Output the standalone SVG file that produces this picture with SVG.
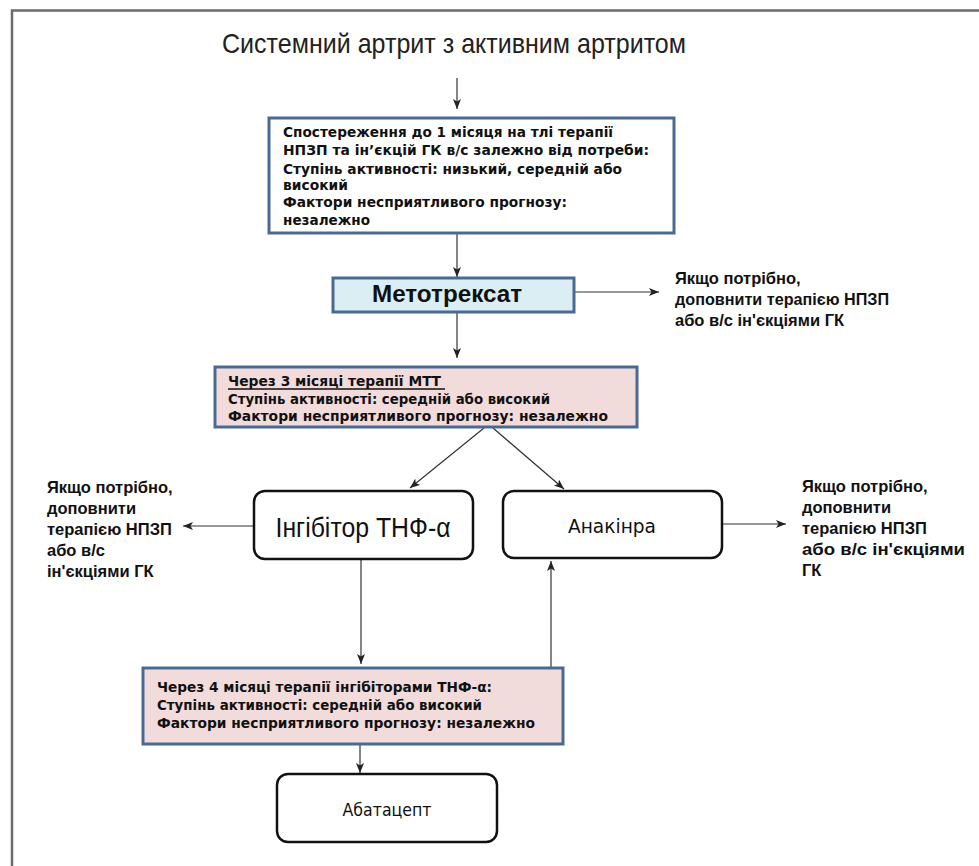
<svg xmlns="http://www.w3.org/2000/svg" width="979" height="866" viewBox="0 0 979 866">
<defs>
<marker id="ah" viewBox="0 0 10 8" refX="10" refY="4" markerWidth="10" markerHeight="8" markerUnits="userSpaceOnUse" orient="auto">
<path d="M0,0 L10,4 L0,8 L2.5,4 Z" fill="#222"/>
</marker>
<style>
.frame{fill:none;stroke:#6b6b6b;stroke-width:2.5}
.bx{fill:#fff;stroke:#4a6a94;stroke-width:3}
.pink{fill:#f2dcdb;stroke:#4a6a94;stroke-width:3}
.blue{fill:#dbeef4;stroke:#4a6a94;stroke-width:3}
.rnd{fill:#fff;stroke:#111;stroke-width:2.5}
.bt{font-family:"DejaVu Sans",Verdana,sans-serif;font-weight:bold;font-size:13.5px;fill:#111}
.st{font-family:"Liberation Sans",Arial,sans-serif;font-weight:bold;font-size:16.5px;fill:#111}
.cn{stroke:#333;stroke-width:1.2;fill:none;marker-end:url(#ah)}
</style>
</defs>
<rect width="979" height="866" fill="#fff"/>
<path class="frame" d="M12,866 V10.5 H979"/>
<g id="title">
<text x="222" y="53" font-family="'Liberation Sans',Arial,sans-serif" font-size="28" fill="#222" textLength="464" lengthAdjust="spacingAndGlyphs">Системний артрит з активним артритом</text>
</g>
<g id="connectors">
<line class="cn" x1="457" y1="78" x2="457" y2="109"/>
<line class="cn" x1="457" y1="234" x2="457" y2="277"/>
<line class="cn" x1="574" y1="292" x2="659" y2="292"/>
<line class="cn" x1="457" y1="312" x2="457" y2="358"/>
<line class="cn" x1="484" y1="428" x2="410" y2="488"/>
<line class="cn" x1="493" y1="428" x2="564" y2="489"/>
<line class="cn" x1="253" y1="526" x2="183" y2="526"/>
<line class="cn" x1="722" y1="524" x2="786" y2="524"/>
<line class="cn" x1="361" y1="560" x2="361" y2="664"/>
<line class="cn" x1="551" y1="667" x2="551" y2="561"/>
<line class="cn" x1="360" y1="745" x2="360" y2="773"/>
</g>
<g id="obs">
<rect class="bx" x="269" y="118" width="405" height="115"/>
<text class="bt" x="283" y="137" textLength="330" lengthAdjust="spacingAndGlyphs">Спостереження до 1 місяця на тлі терапії</text>
<text class="bt" x="283" y="155" textLength="366" lengthAdjust="spacingAndGlyphs">НПЗП та ін’єкцій ГК в/с залежно від потреби:</text>
<text class="bt" x="283" y="174" textLength="339" lengthAdjust="spacingAndGlyphs">Ступінь активності: низький, середній або</text>
<text class="bt" x="283" y="190" textLength="65" lengthAdjust="spacingAndGlyphs">високий</text>
<text class="bt" x="283" y="207" textLength="284" lengthAdjust="spacingAndGlyphs">Фактори несприятливого прогнозу:</text>
<text class="bt" x="283" y="225" textLength="87" lengthAdjust="spacingAndGlyphs">незалежно</text>
</g>
<g id="mtx">
<rect class="blue" x="333" y="278" width="241" height="34"/>
<text x="447" y="302" text-anchor="middle" font-family="'Liberation Sans',Arial,sans-serif" font-weight="bold" font-size="23" fill="#111" textLength="150" lengthAdjust="spacingAndGlyphs">Метотрексат</text>
</g>
<g id="note-mtx">
<text class="st" x="675" y="284">Якщо потрібно,</text>
<text class="st" x="675" y="305" textLength="214" lengthAdjust="spacingAndGlyphs">доповнити терапією НПЗП</text>
<text class="st" x="675" y="326">або в/с ін'єкціями ГК</text>
</g>
<g id="after3">
<rect class="pink" x="215" y="367" width="422" height="60"/>
<text class="bt" x="228" y="386" textLength="213" lengthAdjust="spacingAndGlyphs">Через 3 місяці терапії МТТ</text>
<line x1="228" y1="389" x2="445" y2="389" stroke="#111" stroke-width="1.3"/>
<text class="bt" x="228" y="404" textLength="322" lengthAdjust="spacingAndGlyphs">Ступінь активності: середній або високий</text>
<text class="bt" x="228" y="421" textLength="380" lengthAdjust="spacingAndGlyphs">Фактори несприятливого прогнозу: незалежно</text>
</g>
<g id="tnf">
<rect class="rnd" x="254" y="491" width="219" height="68" rx="11"/>
<text x="363" y="537" text-anchor="middle" font-family="'Liberation Sans',Arial,sans-serif" font-size="27" fill="#111" textLength="175" lengthAdjust="spacingAndGlyphs">Інгібітор ТНФ-α</text>
</g>
<g id="note-left">
<text class="st" x="47" y="493">Якщо потрібно,</text>
<text class="st" x="47" y="514">доповнити</text>
<text class="st" x="47" y="535">терапією НПЗП</text>
<text class="st" x="47" y="556">або в/с</text>
<text class="st" x="47" y="577">ін'єкціями ГК</text>
</g>
<g id="anakinra">
<rect class="rnd" x="503" y="491" width="219" height="67" rx="11"/>
<text x="612" y="533" text-anchor="middle" font-family="'DejaVu Sans',Verdana,sans-serif" font-size="19" fill="#111" textLength="88" lengthAdjust="spacingAndGlyphs">Анакінра</text>
</g>
<g id="note-right">
<text class="st" x="802" y="492">Якщо потрібно,</text>
<text class="st" x="802" y="513">доповнити</text>
<text class="st" x="802" y="534">терапією НПЗП</text>
<text class="st" x="802" y="555" textLength="163" lengthAdjust="spacingAndGlyphs">або в/с ін'єкціями</text>
<text class="st" x="802" y="576">ГК</text>
</g>
<g id="after4">
<rect class="pink" x="143" y="668" width="420" height="76"/>
<text class="bt" x="157" y="692" textLength="335" lengthAdjust="spacingAndGlyphs">Через 4 місяці терапії інгібіторами ТНФ-α:</text>
<text class="bt" x="157" y="710" textLength="325" lengthAdjust="spacingAndGlyphs">Ступінь активності: середній або високий</text>
<text class="bt" x="157" y="728" textLength="378" lengthAdjust="spacingAndGlyphs">Фактори несприятливого прогнозу: незалежно</text>
</g>
<g id="abatacept">
<rect class="rnd" x="277" y="774" width="220" height="68" rx="11"/>
<text x="387" y="816" text-anchor="middle" font-family="'DejaVu Sans',Verdana,sans-serif" font-size="17" fill="#111" textLength="89" lengthAdjust="spacingAndGlyphs">Абатацепт</text>
</g>
</svg>
